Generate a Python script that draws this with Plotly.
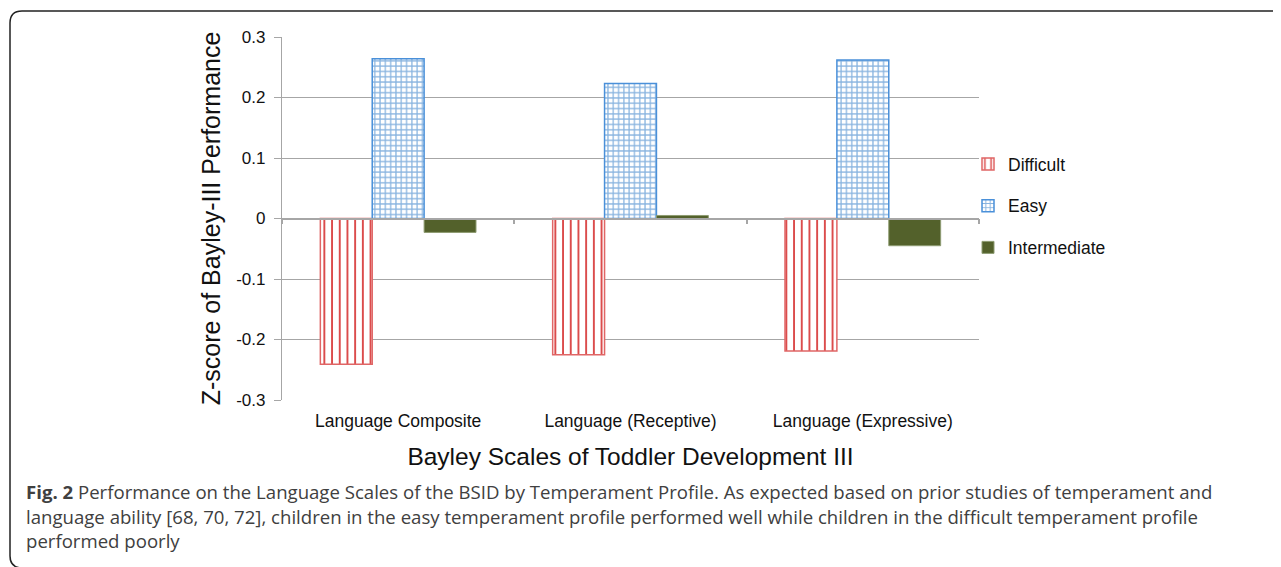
import plotly.graph_objects as go

categories = ["Language Composite", "Language (Receptive)", "Language (Expressive)"]
difficult = [-0.241, -0.225, -0.219]
easy = [0.264, 0.223, 0.262]
intermediate = [-0.023, 0.005, -0.045]
y_tickvals = [0.3, 0.2, 0.1, 0, -0.1, -0.2, -0.3]
y_ticktext = ["0.3", "0.2", "0.1", "0", "-0.1", "-0.2", "-0.3"]
y_title = "Z-score of Bayley-III Performance"
x_title = "Bayley Scales of Toddler Development III"
caption_lines = [
    "<b>Fig. 2</b> Performance on the Language Scales of the BSID by Temperament Profile. As expected based on prior studies of temperament and",
    "language ability [68, 70, 72], children in the easy temperament profile performed well while children in the difficult temperament profile",
    "performed poorly",
]

OFF = 8  # page body margin
W, H = 1281 - OFF, 567 - OFF
L, R, T, B = 282 - OFF, 979 - OFF, 37 - OFF, 400 - OFF
YMIN, YMAX = -0.3, 0.3


def px(x):
    """page x pixel -> paper fraction"""
    return (x - OFF - L) / (R - L)


def py(y):
    """page y pixel -> paper fraction"""
    return (B - (y - OFF)) / (B - T)


fig = go.Figure()
fig.add_trace(go.Bar(
    name="Difficult", x=categories, y=difficult, legendgroup="d",
    marker=dict(color="white", line=dict(color="#E06666", width=1.5),
                pattern=dict(shape="|", fgcolor="#CC0000", size=7.7, solidity=0.25,
                             fgopacity=0.7, fillmode="overlay")),
))
fig.add_trace(go.Bar(
    name="Easy", x=categories, y=easy, legendgroup="e",
    marker=dict(color="white", line=dict(color="#4A90D9", width=1.5),
                pattern=dict(shape="+", fgcolor="#1168C0", size=5.3, solidity=0.42,
                             fillmode="overlay")),
))
fig.add_trace(go.Bar(
    name="Intermediate", x=categories, y=intermediate, legendgroup="i",
    marker=dict(color="#53612B", line=dict(color="#8E9C72", width=1)),
))
fig.add_trace(go.Scatter(x=[], y=[], xaxis="x2", showlegend=False, hoverinfo="skip"))

zero_pos = (0 - YMIN) / (YMAX - YMIN)

fig.update_layout(
    width=W, height=H,
    margin=dict(l=L, r=W - R, t=T, b=H - B),
    paper_bgcolor="white", plot_bgcolor="white",
    barmode="group", bargap=0.33, bargroupgap=0,
    font=dict(family="Liberation Sans, Arial, sans-serif", color="#111111"),
    xaxis=dict(type="category", range=[-0.5, 2.5], showgrid=False, showline=False,
               ticks="", tickfont=dict(size=17.5), ticklabelstandoff=8,
               title=dict(text=x_title, font=dict(size=24.5), standoff=18)),
    xaxis2=dict(overlaying="x", anchor="free", position=zero_pos, side="bottom",
                range=[-0.5, 2.5], showgrid=False, zeroline=False, showline=True,
                linecolor="#A6A6A6", linewidth=1.5, ticks="outside", ticklen=5,
                tickcolor="#A6A6A6", tickwidth=1.5, tickvals=[-0.5, 0.5, 1.5, 2.5],
                showticklabels=False),
    yaxis=dict(range=[YMIN, YMAX], tickvals=y_tickvals, ticktext=y_ticktext,
               showgrid=True, gridcolor="#A6A6A6", gridwidth=1.3, zeroline=False,
               showline=True, linecolor="#A6A6A6", linewidth=1.3,
               ticks="outside", ticklen=7, tickcolor="#A6A6A6",
               tickfont=dict(size=17), ticklabelstandoff=5,
               title=dict(text=y_title, font=dict(size=25), standoff=8)),
    legend=dict(x=px(968), y=py(146), xanchor="left", yanchor="top",
                font=dict(size=17.5), tracegroupgap=16, traceorder="grouped",
                itemwidth=30, bgcolor="rgba(0,0,0,0)"),
    showlegend=True,
)

for i, line in enumerate(caption_lines):
    fig.add_annotation(text=line, xref="paper", yref="paper", x=px(24), y=py(492 + 24 * i),
                       xanchor="left", yanchor="middle", showarrow=False, align="left",
                       font=dict(family="Open Sans, Noto Sans, sans-serif", size=18.6, color="#404040"))

frame_path = (
    f"M {px(1290)},{py(11)} L {px(22)},{py(11)} Q {px(10)},{py(11)} {px(10)},{py(23)} "
    f"L {px(10)},{py(556)} Q {px(10)},{py(567)} {px(21)},{py(568)}"
)
fig.add_shape(type="path", path=frame_path, xref="paper", yref="paper",
              line=dict(color="#222222", width=1.5))

fig.write_html("out.html")
